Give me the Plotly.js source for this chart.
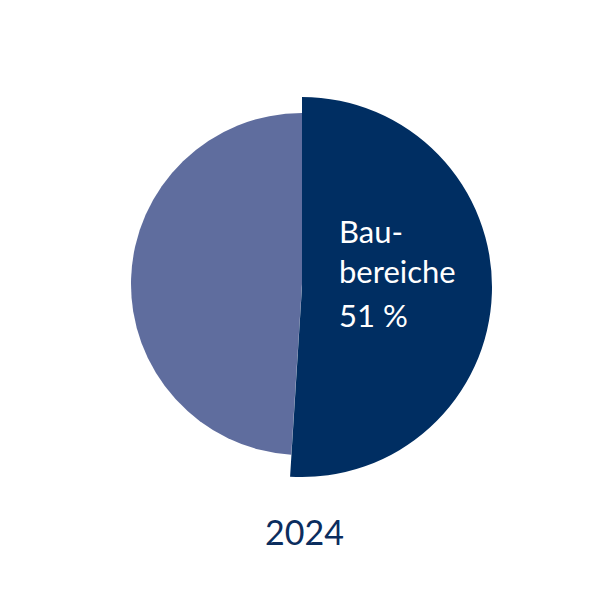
<!DOCTYPE html>
<html>
<head>
<meta charset="utf-8">
<script src="https://cdn.plot.ly/plotly-3.0.1.min.js"></script>
<style>
  html, body { margin: 0; padding: 0; background: #fff; }
  #chart { width: 608px; height: 608px; }
</style>
</head>
<body>
<div id="chart"></div>
<script>
// share of building sectors, 2024
var labels = ["Baubereiche", "Übrige"];
var values = [51, 49];
var sliceColors = ["#002e62", "#5f6d9e"];
var yearLabel = "2024";
var sliceName = ["Bau-", "bereiche"];
var sliceShare = "51 %";

var W = 608, H = 608;
function px(x) { return x / W; }
function py(y) { return 1 - y / H; }

// dark slice drawn bigger than the light one: two overlaid pies,
// each showing one slice only
function pieTrace(showIdx, cx, cy, r) {
  return {
    type: "pie",
    labels: labels,
    values: values,
    sort: false,
    direction: "clockwise",
    rotation: 0,
    textinfo: "none",
    hoverinfo: "skip",
    showlegend: false,
    marker: {
      colors: sliceColors.map(function(c, i) { return i === showIdx ? c : "rgba(0,0,0,0)"; }),
      line: { width: 0 }
    },
    domain: { x: [px(cx - r), px(cx + r)], y: [py(cy + r), py(cy - r)] }
  };
}

var data = [
  pieTrace(1, 302, 284, 171),
  pieTrace(0, 302, 287, 190)
];

var txtFont = { family: "Lato, 'Open Sans', sans-serif", size: 31, color: "#ffffff" };
var annos = [
  { text: sliceName.join("<br>"), x: px(338), y: py(251) },
  { text: sliceShare, x: px(338), y: py(315) }
].map(function(a) {
  a.xref = "paper"; a.yref = "paper"; a.xanchor = "left"; a.yanchor = "middle";
  a.align = "left"; a.borderpad = 0;
  a.showarrow = false; a.font = txtFont;
  return a;
});
annos.push({
  text: yearLabel, xref: "paper", yref: "paper", x: px(304), y: py(531),
  xanchor: "center", yanchor: "middle", showarrow: false,
  font: { family: "Lato, 'Open Sans', sans-serif", size: 34, color: "#0b2d5e" }
});

var layout = {
  width: W, height: H,
  margin: { t: 0, b: 0, l: 0, r: 0 },
  paper_bgcolor: "#ffffff",
  plot_bgcolor: "#ffffff",
  showlegend: false,
  annotations: annos
};

Plotly.newPlot("chart", data, layout, { displayModeBar: false, staticPlot: true });
</script>
</body>
</html>
